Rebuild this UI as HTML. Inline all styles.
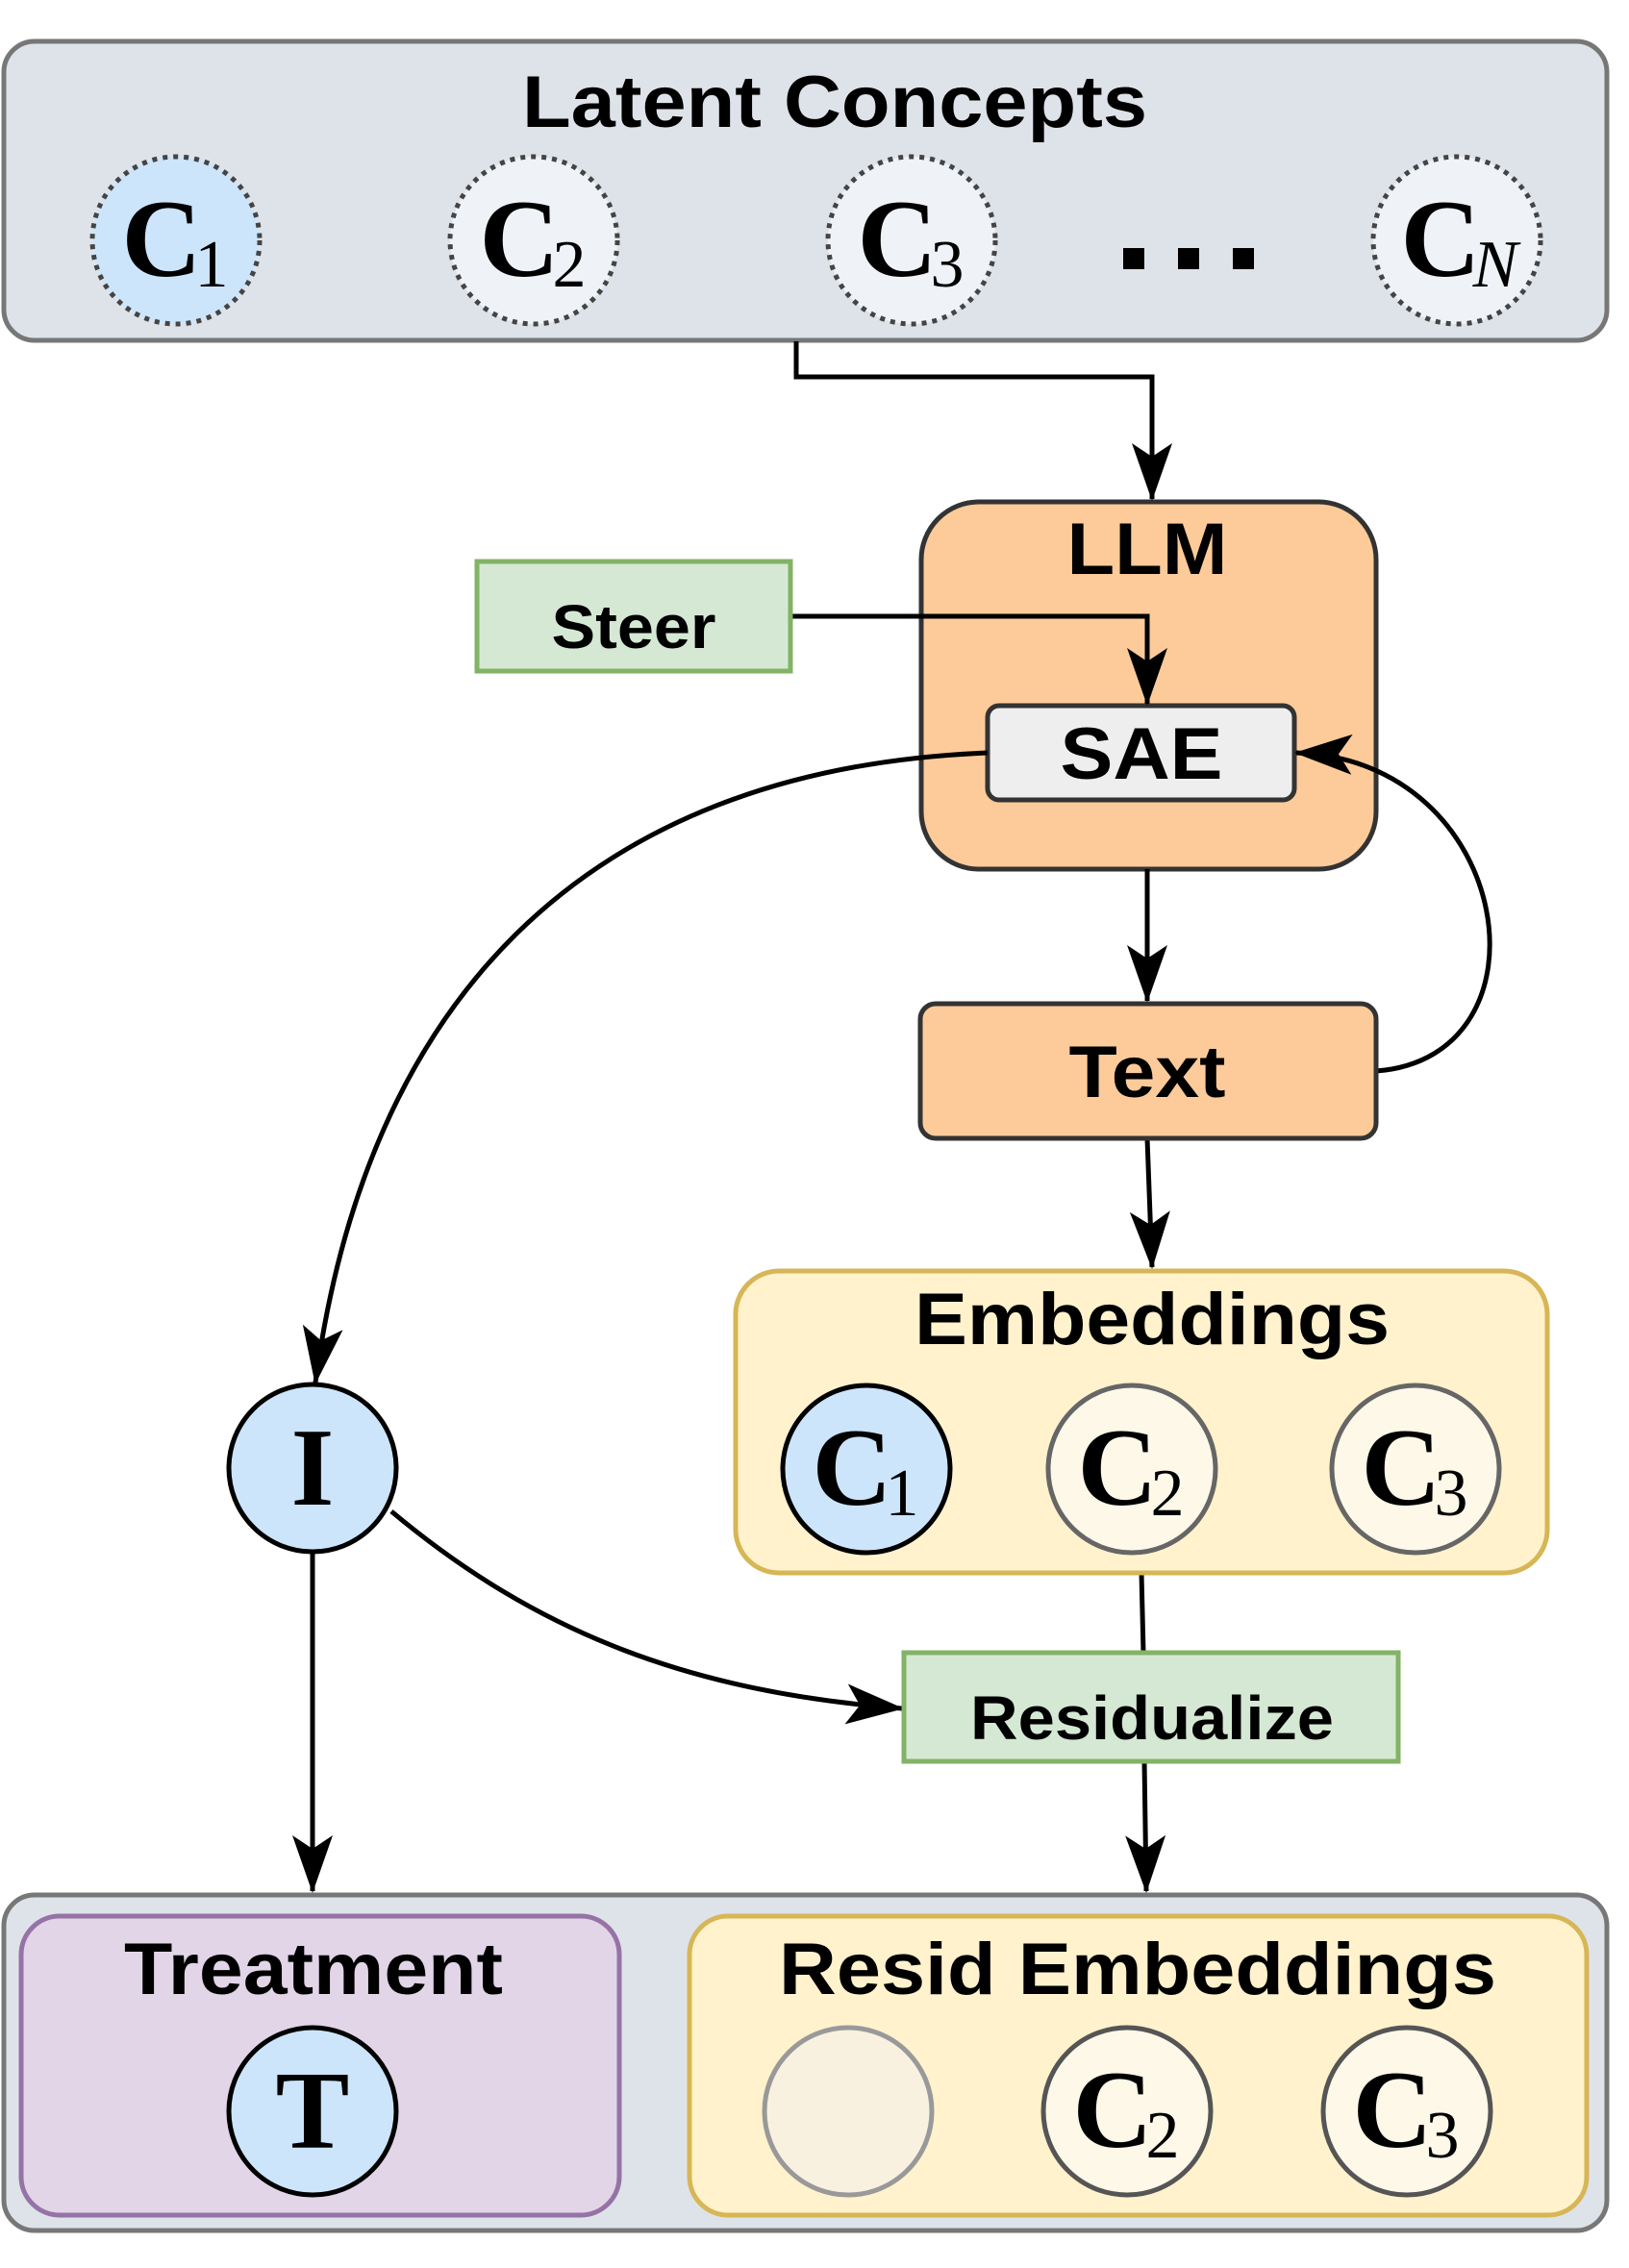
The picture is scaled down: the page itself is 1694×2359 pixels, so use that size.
<!DOCTYPE html>
<html><head><meta charset="utf-8"><style>
html,body{margin:0;padding:0;background:#fff;}
svg{display:block;}
.t{font-family:"Liberation Sans",Arial,sans-serif;font-weight:bold;fill:#000;}
.m{font-family:"Liberation Serif",serif;font-weight:bold;fill:#000;}
.s{font-family:"Liberation Serif",serif;fill:#000;}
</style></head><body>
<svg width="1694" height="2359" viewBox="0 0 1694 2359" xmlns="http://www.w3.org/2000/svg">
<defs>
<marker id="A" markerWidth="60" markerHeight="60" refX="58" refY="30" orient="auto" markerUnits="userSpaceOnUse" viewBox="0 0 60 60">
<path d="M0,9 L60,30 L0,51 L14,30 Z" fill="#000"/>
</marker>
</defs>

<!-- Latent concepts -->
<rect x="4" y="43" width="1667" height="311" rx="32" fill="#dee3ea" stroke="#777" stroke-width="5"/>
<text class="t" x="868" y="132" font-size="76" text-anchor="middle" textLength="650" lengthAdjust="spacingAndGlyphs">Latent Concepts</text>
<g stroke="#444" stroke-width="5" stroke-dasharray="5,6">
<circle cx="183" cy="250" r="87" fill="#cce5fb"/>
<circle cx="555" cy="250" r="87" fill="#eff3f7"/>
<circle cx="948" cy="250" r="87" fill="#eff3f7"/>
<circle cx="1515" cy="250" r="87" fill="#eff3f7"/>
</g>
<g>
<text class="m" x="168" y="287" font-size="115" text-anchor="middle">C</text><text class="s" x="220" y="298" font-size="70" text-anchor="middle">1</text>
<text class="m" x="540" y="287" font-size="115" text-anchor="middle">C</text><text class="s" x="592" y="298" font-size="70" text-anchor="middle">2</text>
<text class="m" x="933" y="287" font-size="115" text-anchor="middle">C</text><text class="s" x="985" y="298" font-size="70" text-anchor="middle">3</text>
<text class="m" x="1498" y="287" font-size="115" text-anchor="middle">C</text><text class="s" x="1555" y="298" font-size="70" font-style="italic" text-anchor="middle">N</text>
</g>
<rect x="1168" y="258" width="22" height="22" fill="#000"/>
<rect x="1225" y="258" width="22" height="22" fill="#000"/>
<rect x="1282" y="258" width="22" height="22" fill="#000"/>

<!-- LLM -->
<rect x="958" y="522" width="473" height="382" rx="60" fill="#fdcb9a" stroke="#333" stroke-width="5"/>
<text class="t" x="1193" y="597" font-size="76" text-anchor="middle" textLength="167" lengthAdjust="spacingAndGlyphs">LLM</text>
<rect x="1027" y="734" width="319" height="98" rx="12" fill="#eeeeee" stroke="#333" stroke-width="5"/>
<text class="t" x="1187" y="810" font-size="76" text-anchor="middle" textLength="169" lengthAdjust="spacingAndGlyphs">SAE</text>

<!-- edges -->
<g fill="none" stroke="#000" stroke-width="5">
<path d="M828,355 V392 H1198 V519" marker-end="url(#A)"/>
<path d="M822,641 H1193 V732" marker-end="url(#A)"/>
<path d="M1193,904 V1041" marker-end="url(#A)"/>
<path d="M1193,1184 L1198,1318" marker-end="url(#A)"/>
<path d="M1187,1636 L1189,1719"/>
<path d="M1190,1832 L1192,1967" marker-end="url(#A)"/>
<path d="M325,1615 V1967" marker-end="url(#A)"/>
<path d="M1027,783 C600,800 380,1050 328,1438" marker-end="url(#A)"/>
<path d="M1431,1114 C1620,1100 1575,790 1348,783" marker-end="url(#A)"/>
<path d="M407,1572 C560,1700 720,1760 938,1777" marker-end="url(#A)"/>
</g>

<!-- Steer -->
<rect x="496" y="584" width="326" height="114" fill="#d5e8d4" stroke="#82b366" stroke-width="5"/>
<text class="t" x="659" y="674" font-size="64" text-anchor="middle" textLength="171" lengthAdjust="spacingAndGlyphs">Steer</text>

<!-- Text -->
<rect x="957" y="1044" width="474" height="140" rx="16" fill="#fdcb9a" stroke="#333" stroke-width="5"/>
<text class="t" x="1193" y="1141" font-size="76" text-anchor="middle" textLength="163" lengthAdjust="spacingAndGlyphs">Text</text>

<!-- Embeddings -->
<rect x="765" y="1322" width="844" height="314" rx="45" fill="#fff2cc" stroke="#d6b656" stroke-width="5"/>
<text class="t" x="1198" y="1398" font-size="76" text-anchor="middle" textLength="494" lengthAdjust="spacingAndGlyphs">Embeddings</text>
<circle cx="901" cy="1528" r="87" fill="#cce5fb" stroke="#000" stroke-width="5"/>
<circle cx="1177" cy="1528" r="87" fill="#fdf8e8" stroke="#666" stroke-width="5"/>
<circle cx="1472" cy="1528" r="87" fill="#fdf8e8" stroke="#666" stroke-width="5"/>
<text class="m" x="886" y="1565" font-size="115" text-anchor="middle">C</text><text class="s" x="938" y="1576" font-size="70" text-anchor="middle">1</text>
<text class="m" x="1162" y="1565" font-size="115" text-anchor="middle">C</text><text class="s" x="1214" y="1576" font-size="70" text-anchor="middle">2</text>
<text class="m" x="1457" y="1565" font-size="115" text-anchor="middle">C</text><text class="s" x="1509" y="1576" font-size="70" text-anchor="middle">3</text>

<!-- I -->
<circle cx="325" cy="1527" r="87" fill="#cce5fb" stroke="#000" stroke-width="5"/>
<text class="m" x="325" y="1565" font-size="115" text-anchor="middle">I</text>

<!-- Residualize -->
<rect x="940" y="1719" width="514" height="113" fill="#d5e8d4" stroke="#82b366" stroke-width="5"/>
<text class="t" x="1198" y="1809" font-size="64" text-anchor="middle" textLength="378" lengthAdjust="spacingAndGlyphs">Residualize</text>

<!-- Bottom -->
<rect x="4" y="1971" width="1667" height="349" rx="32" fill="#dee3ea" stroke="#777" stroke-width="5"/>
<rect x="22" y="1993" width="622" height="311" rx="40" fill="#e1d5e7" stroke="#9673a6" stroke-width="5"/>
<text class="t" x="326" y="2074" font-size="76" text-anchor="middle" textLength="394" lengthAdjust="spacingAndGlyphs">Treatment</text>
<circle cx="325" cy="2196" r="87" fill="#cce5fb" stroke="#000" stroke-width="5"/>
<text class="m" x="325" y="2234" font-size="115" text-anchor="middle">T</text>

<rect x="717" y="1993" width="933" height="311" rx="40" fill="#fff2cc" stroke="#d6b656" stroke-width="5"/>
<text class="t" x="1183" y="2074" font-size="76" text-anchor="middle" textLength="746" lengthAdjust="spacingAndGlyphs">Resid Embeddings</text>
<circle cx="882" cy="2196" r="87" fill="#f8f1e0" stroke="#999" stroke-width="5"/>
<circle cx="1172" cy="2196" r="87" fill="#fdf8e8" stroke="#555" stroke-width="5"/>
<circle cx="1463" cy="2196" r="87" fill="#fdf8e8" stroke="#555" stroke-width="5"/>
<text class="m" x="1157" y="2233" font-size="115" text-anchor="middle">C</text><text class="s" x="1209" y="2244" font-size="70" text-anchor="middle">2</text>
<text class="m" x="1448" y="2233" font-size="115" text-anchor="middle">C</text><text class="s" x="1500" y="2244" font-size="70" text-anchor="middle">3</text>
</svg>
</body></html>
